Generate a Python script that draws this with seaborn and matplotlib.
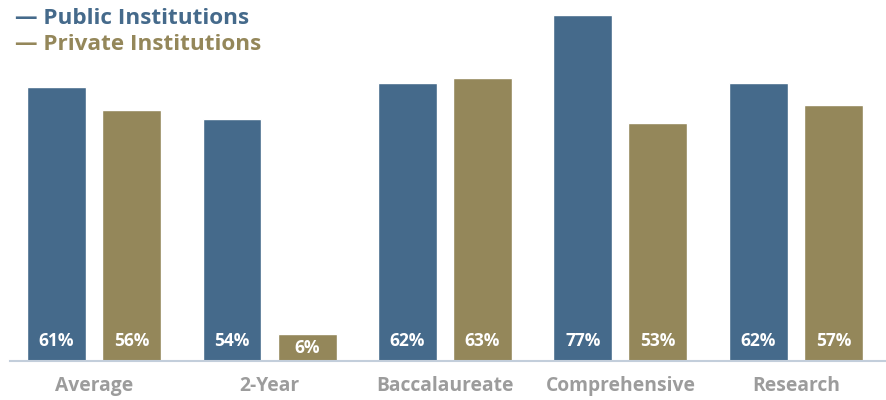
import pandas as pd
import matplotlib
matplotlib.use('Agg')
import matplotlib.pyplot as plt
import seaborn as sns

# 数据
categories = ['Average', '2-Year', 'Baccalaureate', 'Comprehensive', 'Research']
public_vals = [61, 54, 62, 77, 62]
private_vals = [56, 6, 63, 53, 57]
series_names = ['Public Institutions', 'Private Institutions']

BLUE = '#456a8b'
OLIVE = '#94875a'
GRAY = '#9c9c9c'

sns.set_theme(style='white')
plt.rcParams['font.family'] = ['Open Sans', 'DejaVu Sans']

df = pd.DataFrame({
    'category': categories * 2,
    'value': public_vals + private_vals,
    'series': [series_names[0]] * len(categories) + [series_names[1]] * len(categories),
})

fig = plt.figure(figsize=(8.87, 4.0), dpi=100)
ax = fig.add_axes([10 / 887, 39 / 400, 877 / 887, 361 / 400])

sns.barplot(data=df, x='category', y='value', hue='series', order=categories,
            hue_order=series_names, palette=[BLUE, OLIVE], width=0.855, gap=0.214,
            saturation=1, legend=False, ax=ax)

ax.set_xlim(-0.479, 4.519)
ax.set_ylim(0, 80.4)
ax.set_xlabel('')
ax.set_ylabel('')
ax.set_yticks([])
for s in ['top', 'right', 'left']:
    ax.spines[s].set_visible(False)
ax.spines['bottom'].set_color('#c3cedb')
ax.spines['bottom'].set_linewidth(1.5)
ax.tick_params(axis='x', length=0, pad=11, labelsize=13.9, labelcolor=GRAY)
for t in ax.get_xticklabels():
    t.set_fontweight('bold')

# 柱内标签
for container in ax.containers:
    for bar in container:
        v = bar.get_height()
        x = bar.get_x() + bar.get_width() / 2
        ax.text(x, min(4.5, v / 2), f'{v:.0f}%', ha='center', va='center',
                color='white', fontsize=12.5, fontweight='bold')

# 图例（文字）
fig.text(15 / 887, 1 - 18 / 400, '— Public Institutions', color=BLUE,
         fontsize=16.2, fontweight='bold', va='center', ha='left')
fig.text(15 / 887, 1 - 44 / 400, '— Private Institutions', color=OLIVE,
         fontsize=16.2, fontweight='bold', va='center', ha='left')

fig.savefig('out.png', dpi=100)
